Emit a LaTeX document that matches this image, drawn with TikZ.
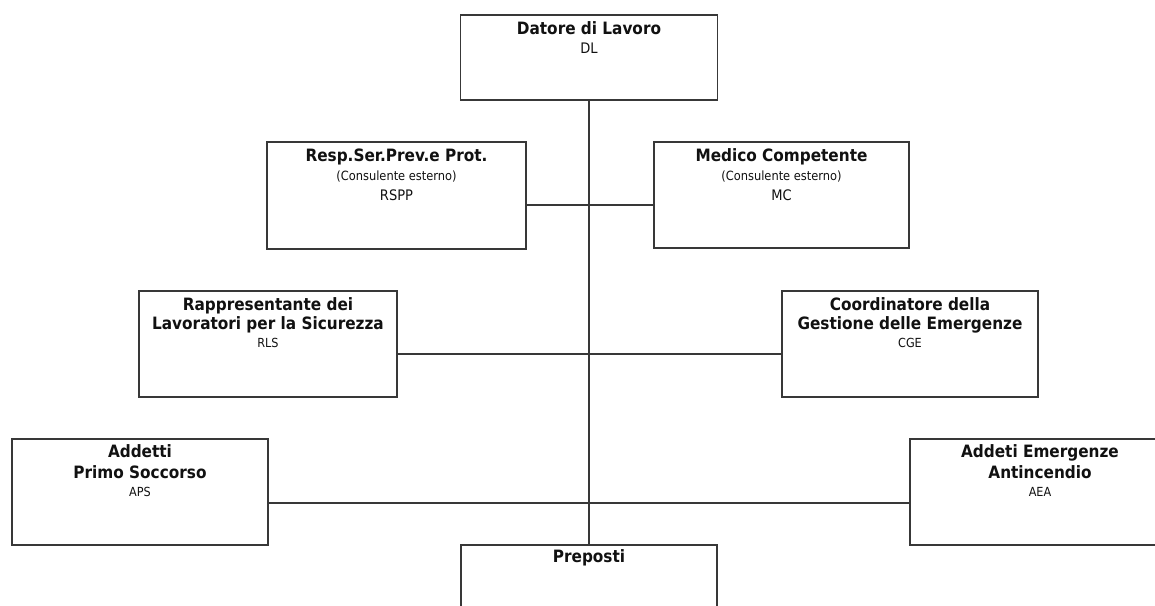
\documentclass[tikz,border=0pt]{standalone}
\usepackage{fontspec}
\setmainfont{DejaVu Sans Condensed}
\definecolor{linegray}{HTML}{383838}
\definecolor{txt}{HTML}{111111}
\begin{document}
\begin{tikzpicture}[x=1pt,y=-1pt,
  box/.style={draw=linegray, line width=1.3pt, rectangle, inner sep=0pt},
  conn/.style={draw=linegray, line width=1.3pt},
  ttl/.style={anchor=base, inner sep=0pt, text=txt, font=\fontsize{17}{20}\selectfont\bfseries},
  sub/.style={anchor=base, inner sep=0pt, text=txt, font=\fontsize{12.7}{14}\selectfont},
  abbr/.style={anchor=base, inner sep=0pt, text=txt, font=\fontsize{14.5}{17}\selectfont},
  abbrs/.style={anchor=base, inner sep=0pt, text=txt, font=\fontsize{12.5}{14}\selectfont}]
\useasboundingbox (0,0) rectangle (1155,605);
\fill[white] (0,0) rectangle (1155,605);
% boxes
\node[box, minimum width=257pt, minimum height=85pt]  (dl)   at (589,57.5) {};
\node[box, minimum width=259pt, minimum height=107pt] (rspp) at (396.5,195.5) {};
\node[box, minimum width=255pt, minimum height=106pt] (mc)   at (781.5,195) {};
\node[box, minimum width=258pt, minimum height=106pt] (rls)  at (268,344) {};
\node[box, minimum width=256pt, minimum height=106pt] (cge)  at (910,344) {};
\node[box, minimum width=256pt, minimum height=106pt] (aps)  at (140,492) {};
\node[box, minimum width=260pt, minimum height=106pt] (aea)  at (1040,492) {};
\node[box, minimum width=256pt, minimum height=115pt] (prep) at (589,602.5) {};
% texts
\node[ttl]  (dlt)  at (589,34) {Datore di Lavoro};
\node[abbr] (dla)  at (589,53) {DL};
\node[ttl]  (rspt) at (396.5,161) {Resp.Ser.Prev.e Prot.};
\node[sub]  (rsps) at (396.5,180) {(Consulente esterno)};
\node[abbr] (rspa) at (396.5,200) {RSPP};
\node[ttl]  (mct)  at (781.5,161) {Medico Competente};
\node[sub]  (mcs)  at (781.5,180) {(Consulente esterno)};
\node[abbr] (mca)  at (781.5,200) {MC};
\node[ttl]  (rlt1) at (268,310) {Rappresentante dei};
\node[ttl]  (rlt2) at (268,329) {Lavoratori per la Sicurezza};
\node[abbrs](rla)  at (268,347) {RLS};
\node[ttl]  (cgt1) at (910,310) {Coordinatore della};
\node[ttl]  (cgt2) at (910,329) {Gestione delle Emergenze};
\node[abbrs](cga)  at (910,347) {CGE};
\node[ttl]  (apt1) at (140,457) {Addetti};
\node[ttl]  (apt2) at (140,478) {Primo Soccorso};
\node[abbrs](apa)  at (140,496) {APS};
\node[ttl]  (aet1) at (1040,457) {Addeti Emergenze};
\node[ttl]  (aet2) at (1040,478) {Antincendio};
\node[abbrs](aea2) at (1040,496) {AEA};
\node[ttl]  (prt)  at (589,562) {Preposti};
% connectors
\coordinate (h1) at (0,205);
\coordinate (h2) at (0,354);
\coordinate (h3) at (0,503);
\draw[conn] (dl.south) -- (prep.north);
\draw[conn] (rspp.east |- h1) -- (mc.west |- h1);
\draw[conn] (rls.east |- h2) -- (cge.west |- h2);
\draw[conn] (aps.east |- h3) -- (aea.west |- h3);
\end{tikzpicture}
\end{document}
